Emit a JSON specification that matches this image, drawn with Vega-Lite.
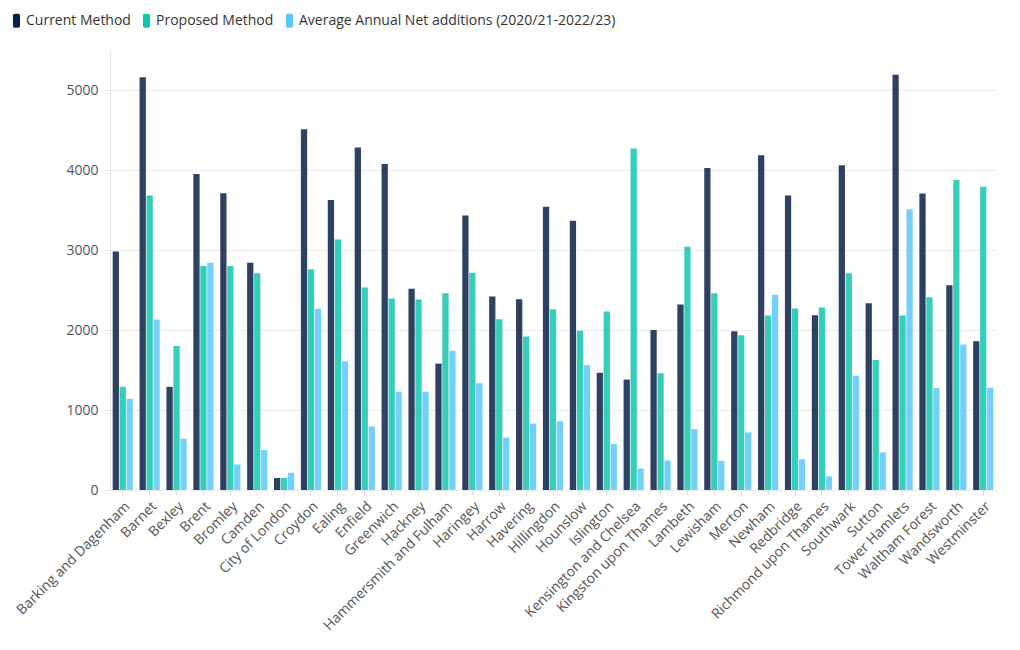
{
  "$schema": "https://vega.github.io/schema/vega-lite/v6.json",
  "autosize": {"type": "none"},
  "padding": {"left": 110, "top": 50, "right": 24, "bottom": 160},
  "width": 886,
  "height": 440,
  "background": "white",
  "config": {
    "font": "Open Sans",
    "view": {"stroke": null}
  },
  "data": {
    "values": [
      {"borough": "Barking and Dagenham", "Current Method": 2980, "Proposed Method": 1290, "Average Annual Net additions (2020/21-2022/23)": 1140},
      {"borough": "Barnet", "Current Method": 5160, "Proposed Method": 3680, "Average Annual Net additions (2020/21-2022/23)": 2130},
      {"borough": "Bexley", "Current Method": 1290, "Proposed Method": 1800, "Average Annual Net additions (2020/21-2022/23)": 640},
      {"borough": "Brent", "Current Method": 3950, "Proposed Method": 2800, "Average Annual Net additions (2020/21-2022/23)": 2840},
      {"borough": "Bromley", "Current Method": 3710, "Proposed Method": 2800, "Average Annual Net additions (2020/21-2022/23)": 320},
      {"borough": "Camden", "Current Method": 2840, "Proposed Method": 2710, "Average Annual Net additions (2020/21-2022/23)": 500},
      {"borough": "City of London", "Current Method": 150, "Proposed Method": 150, "Average Annual Net additions (2020/21-2022/23)": 215},
      {"borough": "Croydon", "Current Method": 4510, "Proposed Method": 2760, "Average Annual Net additions (2020/21-2022/23)": 2265},
      {"borough": "Ealing", "Current Method": 3625, "Proposed Method": 3130, "Average Annual Net additions (2020/21-2022/23)": 1610},
      {"borough": "Enfield", "Current Method": 4280, "Proposed Method": 2530, "Average Annual Net additions (2020/21-2022/23)": 795},
      {"borough": "Greenwich", "Current Method": 4075, "Proposed Method": 2395, "Average Annual Net additions (2020/21-2022/23)": 1230},
      {"borough": "Hackney", "Current Method": 2515, "Proposed Method": 2380, "Average Annual Net additions (2020/21-2022/23)": 1230},
      {"borough": "Hammersmith and Fulham", "Current Method": 1580, "Proposed Method": 2460, "Average Annual Net additions (2020/21-2022/23)": 1740},
      {"borough": "Haringey", "Current Method": 3430, "Proposed Method": 2715, "Average Annual Net additions (2020/21-2022/23)": 1335},
      {"borough": "Harrow", "Current Method": 2420, "Proposed Method": 2135, "Average Annual Net additions (2020/21-2022/23)": 655},
      {"borough": "Havering", "Current Method": 2385, "Proposed Method": 1920, "Average Annual Net additions (2020/21-2022/23)": 830},
      {"borough": "Hillingdon", "Current Method": 3540, "Proposed Method": 2260, "Average Annual Net additions (2020/21-2022/23)": 860},
      {"borough": "Hounslow", "Current Method": 3365, "Proposed Method": 1990, "Average Annual Net additions (2020/21-2022/23)": 1560},
      {"borough": "Islington", "Current Method": 1465, "Proposed Method": 2230, "Average Annual Net additions (2020/21-2022/23)": 575},
      {"borough": "Kensington and Chelsea", "Current Method": 1380, "Proposed Method": 4270, "Average Annual Net additions (2020/21-2022/23)": 270},
      {"borough": "Kingston upon Thames", "Current Method": 2000, "Proposed Method": 1460, "Average Annual Net additions (2020/21-2022/23)": 370},
      {"borough": "Lambeth", "Current Method": 2320, "Proposed Method": 3040, "Average Annual Net additions (2020/21-2022/23)": 760},
      {"borough": "Lewisham", "Current Method": 4025, "Proposed Method": 2460, "Average Annual Net additions (2020/21-2022/23)": 365},
      {"borough": "Merton", "Current Method": 1985, "Proposed Method": 1935, "Average Annual Net additions (2020/21-2022/23)": 720},
      {"borough": "Newham", "Current Method": 4185, "Proposed Method": 2180, "Average Annual Net additions (2020/21-2022/23)": 2440},
      {"borough": "Redbridge", "Current Method": 3680, "Proposed Method": 2270, "Average Annual Net additions (2020/21-2022/23)": 385},
      {"borough": "Richmond upon Thames", "Current Method": 2185, "Proposed Method": 2280, "Average Annual Net additions (2020/21-2022/23)": 170},
      {"borough": "Southwark", "Current Method": 4060, "Proposed Method": 2710, "Average Annual Net additions (2020/21-2022/23)": 1430},
      {"borough": "Sutton", "Current Method": 2335, "Proposed Method": 1625, "Average Annual Net additions (2020/21-2022/23)": 470},
      {"borough": "Tower Hamlets", "Current Method": 5190, "Proposed Method": 2180, "Average Annual Net additions (2020/21-2022/23)": 3510},
      {"borough": "Waltham Forest", "Current Method": 3705, "Proposed Method": 2410, "Average Annual Net additions (2020/21-2022/23)": 1275},
      {"borough": "Wandsworth", "Current Method": 2560, "Proposed Method": 3875, "Average Annual Net additions (2020/21-2022/23)": 1820},
      {"borough": "Westminster", "Current Method": 1860, "Proposed Method": 3790, "Average Annual Net additions (2020/21-2022/23)": 1280}
    ]
  },
  "transform": [
    {"fold": ["Current Method", "Proposed Method", "Average Annual Net additions (2020/21-2022/23)"], "as": ["series", "value"]}
  ],
  "mark": {"type": "bar", "opacity": 0.85},
  "encoding": {
    "x": {
      "field": "borough",
      "type": "nominal",
      "sort": null,
      "scale": {"paddingInner": 0.25, "paddingOuter": 0.1},
      "axis": {
        "title": null,
        "labelAngle": -45,
        "labelAlign": "right",
        "labelBaseline": "top",
        "labelFontSize": 14,
        "labelColor": "#555555",
        "labelPadding": 4,
        "labelLimit": 0,
        "domain": false,
        "ticks": true,
        "tickColor": "#e0e0e0",
        "tickSize": 5,
        "grid": false
      }
    },
    "xOffset": {
      "field": "series",
      "type": "nominal",
      "sort": ["Current Method", "Proposed Method", "Average Annual Net additions (2020/21-2022/23)"],
      "scale": {"paddingInner": 0.1}
    },
    "y": {
      "field": "value",
      "type": "quantitative",
      "scale": {"domain": [0, 5500], "nice": false},
      "axis": {
        "title": null,
        "values": [0, 1000, 2000, 3000, 4000, 5000],
        "format": "d",
        "labelFontSize": 14,
        "labelColor": "#555555",
        "labelPadding": 5,
        "domain": true,
        "domainColor": "#e6e6e6",
        "ticks": true,
        "tickColor": "#e6e6e6",
        "tickSize": 7,
        "grid": true,
        "gridColor": "#ebebeb"
      }
    },
    "color": {
      "field": "series",
      "type": "nominal",
      "sort": ["Current Method", "Proposed Method", "Average Annual Net additions (2020/21-2022/23)"],
      "scale": {
        "domain": ["Current Method", "Proposed Method", "Average Annual Net additions (2020/21-2022/23)"],
        "range": ["#0b2046", "#12c5ac", "#5ac8fa"]
      },
      "legend": {
        "title": null,
        "orient": "none",
        "legendX": -101,
        "legendY": -37,
        "direction": "horizontal",
        "symbolType": "M-0.25,-1 L0.25,-1 Q0.5,-1 0.5,-0.75 L0.5,0.75 Q0.5,1 0.25,1 L-0.25,1 Q-0.5,1 -0.5,0.75 L-0.5,-0.75 Q-0.5,-1 -0.25,-1 Z",
        "symbolSize": 200,
        "symbolOpacity": 1,
        "symbolStrokeWidth": 0,
        "labelFontSize": 14,
        "labelColor": "#333333",
        "labelOffset": 2,
        "labelLimit": 0,
        "columnPadding": 8
      }
    }
  }
}
